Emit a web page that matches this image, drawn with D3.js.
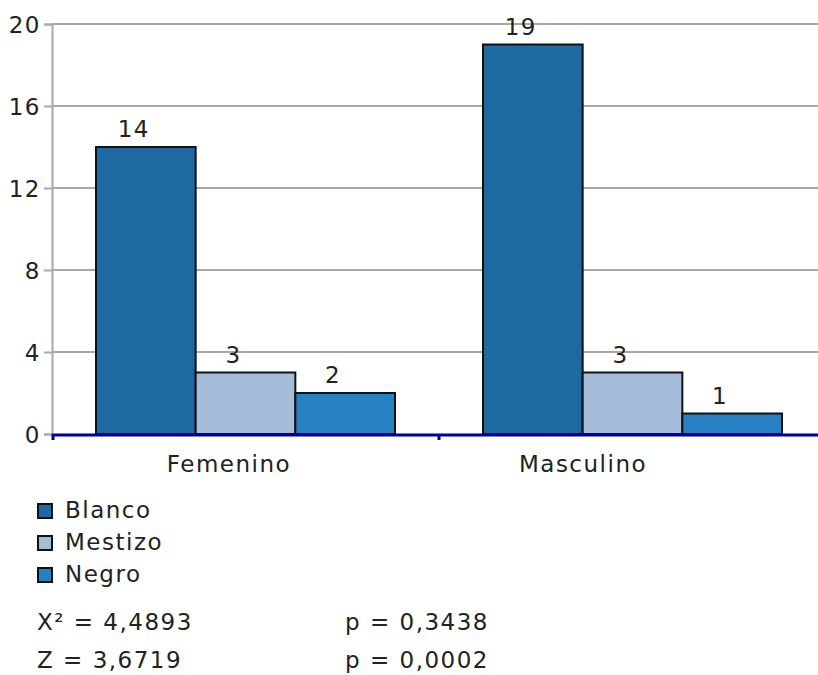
<!DOCTYPE html>
<html><head><meta charset="utf-8">
<script src="https://cdn.jsdelivr.net/npm/d3@7"></script>
<style>
html,body{margin:0;padding:0;background:#fff;}
text{font-family:"DejaVu Sans",Verdana,sans-serif;fill:#222;}
</style></head>
<body>
<script>
const categories = ["Femenino", "Masculino"];
const seriesNames = ["Blanco", "Mestizo", "Negro"];
const blanco = [14, 19];
const mestizo = [3, 3];
const negro = [2, 1];
const yTicks = [0, 4, 8, 12, 16, 20];
const colors = ["#1f69a2", "#a6bcdb", "#2680c2"];
const stats = [["X\u00b2 = 4,4893", "p = 0,3438"], ["Z = 3,6719", "p = 0,0002"]];

const values = [blanco, mestizo, negro];
const W = 818, H = 675;
const LS = 1.5;
const svg = d3.select("body").append("svg").attr("width", W).attr("height", H);

const padL = 52, padT = 24, baseY = 434;
const y = d3.scaleLinear().domain([0, 20]).range([baseY, padT]);
const x0 = d3.scaleBand().domain(categories).range([padL, padL + 2 * 387]);
const x1 = d3.scaleBand().domain(seriesNames).range([44, 343]);
const xl = d3.scaleBand().domain(categories).range([padL, 760]);

// gridlines
svg.append("g").selectAll("line").data(yTicks.filter(t => t > 0)).join("line")
  .attr("x1", padL).attr("x2", W).attr("y1", d => y(d)).attr("y2", d => y(d))
  .attr("stroke", "#a8a8a8").attr("stroke-width", 2);

// y axis
const yAxis = svg.append("g").attr("transform", `translate(${padL},0)`)
  .call(d3.axisLeft(y).tickValues(yTicks).tickSize(8).tickPadding(3));
yAxis.select(".domain").attr("stroke", "#a8a8a8").attr("stroke-width", 2);
yAxis.selectAll(".tick line").attr("stroke", "#a8a8a8").attr("stroke-width", 2);
yAxis.selectAll(".tick text").attr("font-size", 23).attr("letter-spacing", LS)
  .style("font-family", '"DejaVu Sans",Verdana,sans-serif').attr("fill", "#222").attr("dy", "0.36em");

// bars
const data = [];
categories.forEach((c, i) => seriesNames.forEach((s, j) => data.push({c, s, v: values[j][i], j})));
const g = svg.append("g");
g.selectAll("rect").data(data).join("rect")
  .attr("x", d => x0(d.c) + x1(d.s)).attr("width", x1.bandwidth())
  .attr("y", d => y(d.v)).attr("height", d => y(0) - y(d.v))
  .attr("fill", d => colors[d.j]).attr("stroke", "#111").attr("stroke-width", 2);
g.selectAll("text").data(data).join("text")
  .attr("x", d => x0(d.c) + x1(d.s) + x1.bandwidth() / 2 - 12)
  .attr("y", d => y(d.v) - 10)
  .attr("text-anchor", "middle").attr("font-size", 23).attr("letter-spacing", LS)
  .text(d => d.v);

// x axis line
svg.append("line").attr("x1", padL).attr("x2", W).attr("y1", baseY + 1).attr("y2", baseY + 1)
  .attr("stroke", "#00009c").attr("stroke-width", 3);
svg.append("g").selectAll("line").data(categories).join("line")
  .attr("x1", d => x0(d) + (d === categories[0] ? 1 : 0)).attr("x2", d => x0(d) + (d === categories[0] ? 1 : 0))
  .attr("y1", baseY).attr("y2", baseY + 6)
  .attr("stroke", "#00009c").attr("stroke-width", 3);
svg.append("g").selectAll("text").data(categories).join("text")
  .attr("x", d => xl(d) + xl.bandwidth() / 2).attr("y", 472)
  .attr("text-anchor", "middle").attr("font-size", 23).attr("letter-spacing", LS)
  .text(d => d);

// legend
const lg = svg.append("g");
seriesNames.forEach((s, j) => {
  lg.append("rect").attr("x", 38).attr("y", 504 + j * 32).attr("width", 14).attr("height", 14)
    .attr("fill", colors[j]).attr("stroke", "#111").attr("stroke-width", 2);
  lg.append("text").attr("x", 65).attr("y", 518 + j * 32).attr("font-size", 23).attr("letter-spacing", LS).text(s);
});

// stats
stats.forEach((row, i) => {
  svg.append("text").attr("x", 37).attr("y", 630 + i * 38).attr("font-size", 23).attr("letter-spacing", LS).text(row[0]);
  svg.append("text").attr("x", 345).attr("y", 630 + i * 38).attr("font-size", 23).attr("letter-spacing", LS).text(row[1]);
});
</script>
</body></html>
